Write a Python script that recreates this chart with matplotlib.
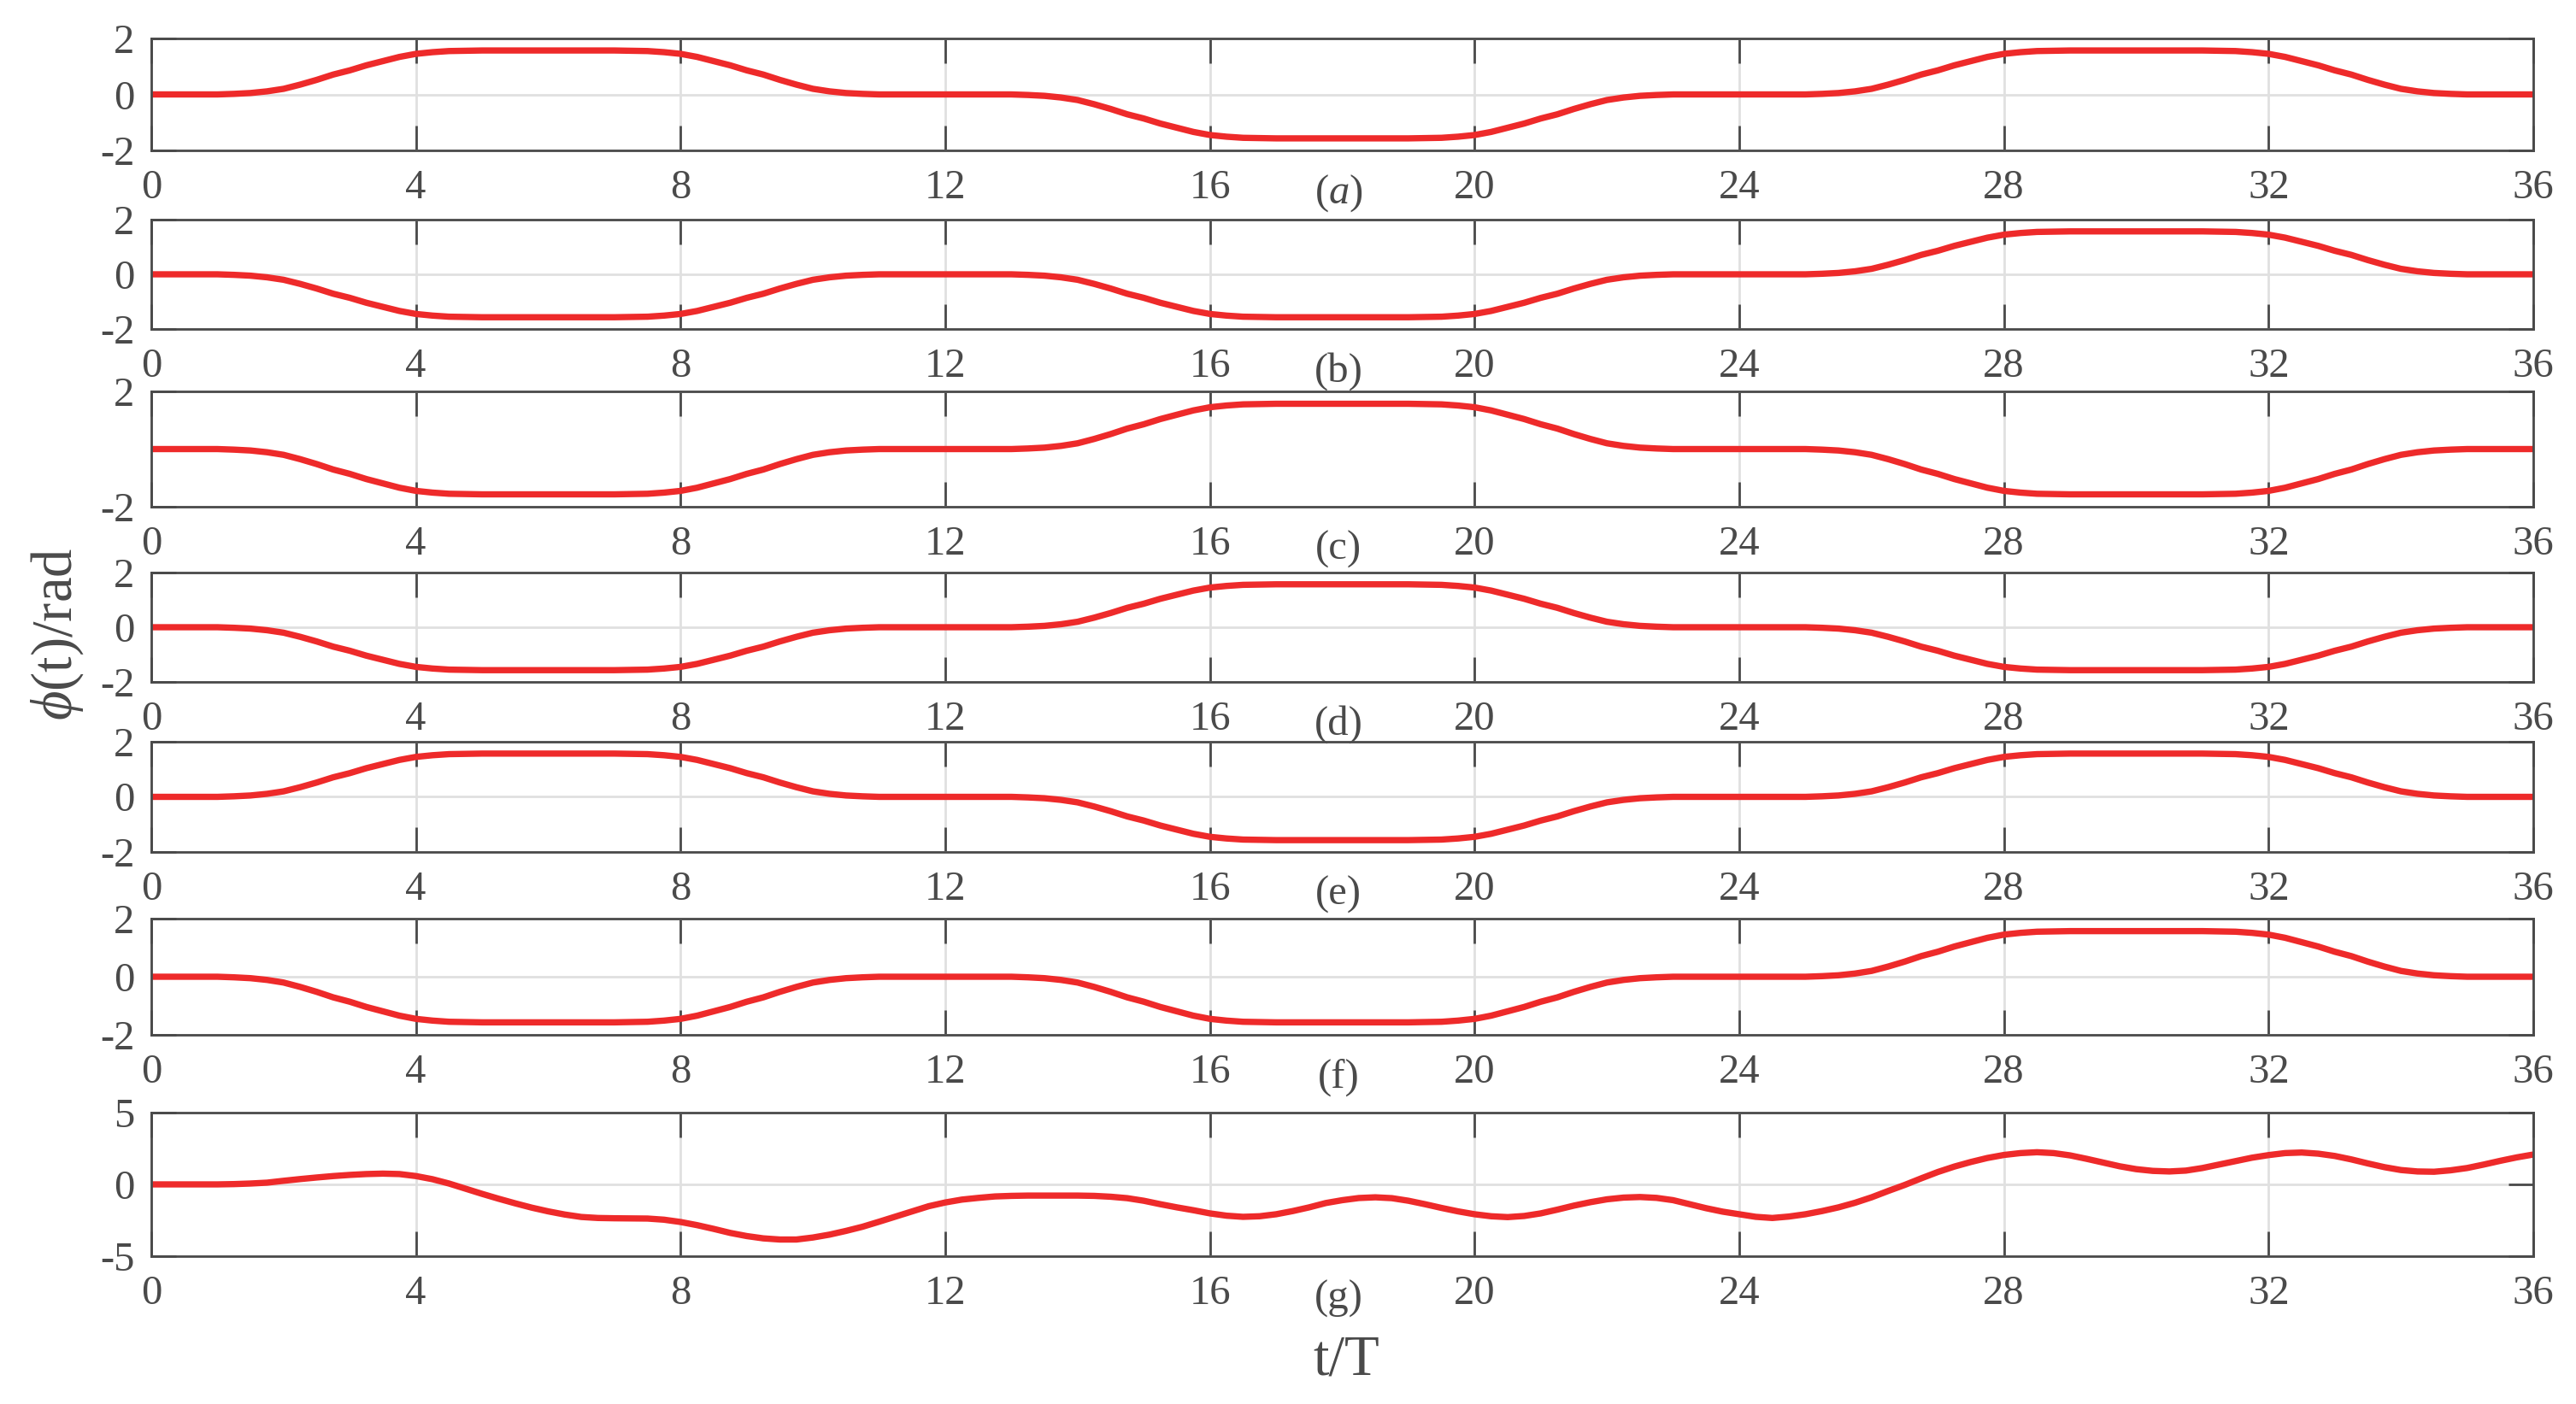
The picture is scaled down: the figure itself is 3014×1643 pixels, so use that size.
import numpy as np
import matplotlib
matplotlib.use("Agg")
import matplotlib.pyplot as plt

# ---------------- data ----------------
T_START, T_END, T_STEP = 0.0, 36.0, 0.25
X_TICKS = [0, 4, 8, 12, 16, 20, 24, 28, 32, 36]
PANEL_LABELS = ["($a$)", "(b)", "(c)", "(d)", "(e)", "(f)", "(g)"]

PHI_A = [0, 0, 0, 0, 0, 0.02, 0.05, 0.11, 0.20, 0.35, 0.52, 0.71, 0.86, 1.04, 1.19, 1.34, 1.45, 1.51, 1.55, 1.56,
         1.57, 1.57, 1.57, 1.57, 1.57, 1.57, 1.57, 1.57, 1.57,
         1.56, 1.55, 1.51, 1.45, 1.34, 1.19, 1.04, 0.86, 0.71, 0.52, 0.35, 0.20, 0.11, 0.05, 0.02, 0, 0, 0, 0, 0,
         0, 0, 0, 0, -0.02, -0.05, -0.11, -0.20, -0.35, -0.52, -0.71, -0.86, -1.04, -1.19, -1.34, -1.45, -1.51, -1.55, -1.56,
         -1.57, -1.57, -1.57, -1.57, -1.57, -1.57, -1.57, -1.57, -1.57,
         -1.56, -1.55, -1.51, -1.45, -1.34, -1.19, -1.04, -0.86, -0.71, -0.52, -0.35, -0.20, -0.11, -0.05, -0.02, 0, 0, 0, 0, 0,
         0, 0, 0, 0, 0.02, 0.05, 0.11, 0.20, 0.35, 0.52, 0.71, 0.86, 1.04, 1.19, 1.34, 1.45, 1.51, 1.55, 1.56,
         1.57, 1.57, 1.57, 1.57, 1.57, 1.57, 1.57, 1.57, 1.57,
         1.56, 1.55, 1.51, 1.45, 1.34, 1.19, 1.04, 0.86, 0.71, 0.52, 0.35, 0.20, 0.11, 0.05, 0.02, 0, 0, 0, 0, 0]

PHI_B = [0, 0, 0, 0, 0, -0.02, -0.05, -0.11, -0.20, -0.35, -0.52, -0.71, -0.86, -1.04, -1.19, -1.34, -1.45, -1.51, -1.55, -1.56,
         -1.57, -1.57, -1.57, -1.57, -1.57, -1.57, -1.57, -1.57, -1.57,
         -1.56, -1.55, -1.51, -1.45, -1.34, -1.19, -1.04, -0.86, -0.71, -0.52, -0.35, -0.20, -0.11, -0.05, -0.02, 0, 0, 0, 0, 0,
         0, 0, 0, 0, -0.02, -0.05, -0.11, -0.20, -0.35, -0.52, -0.71, -0.86, -1.04, -1.19, -1.34, -1.45, -1.51, -1.55, -1.56,
         -1.57, -1.57, -1.57, -1.57, -1.57, -1.57, -1.57, -1.57, -1.57,
         -1.56, -1.55, -1.51, -1.45, -1.34, -1.19, -1.04, -0.86, -0.71, -0.52, -0.35, -0.20, -0.11, -0.05, -0.02, 0, 0, 0, 0, 0,
         0, 0, 0, 0, 0.02, 0.05, 0.11, 0.20, 0.35, 0.52, 0.71, 0.86, 1.04, 1.19, 1.34, 1.45, 1.51, 1.55, 1.56,
         1.57, 1.57, 1.57, 1.57, 1.57, 1.57, 1.57, 1.57, 1.57,
         1.56, 1.55, 1.51, 1.45, 1.34, 1.19, 1.04, 0.86, 0.71, 0.52, 0.35, 0.20, 0.11, 0.05, 0.02, 0, 0, 0, 0, 0]

PHI_C = [0, 0, 0, 0, 0, -0.02, -0.05, -0.11, -0.20, -0.35, -0.52, -0.71, -0.86, -1.04, -1.19, -1.34, -1.45, -1.51, -1.55, -1.56,
         -1.57, -1.57, -1.57, -1.57, -1.57, -1.57, -1.57, -1.57, -1.57,
         -1.56, -1.55, -1.51, -1.45, -1.34, -1.19, -1.04, -0.86, -0.71, -0.52, -0.35, -0.20, -0.11, -0.05, -0.02, 0, 0, 0, 0, 0,
         0, 0, 0, 0, 0.02, 0.05, 0.11, 0.20, 0.35, 0.52, 0.71, 0.86, 1.04, 1.19, 1.34, 1.45, 1.51, 1.55, 1.56,
         1.57, 1.57, 1.57, 1.57, 1.57, 1.57, 1.57, 1.57, 1.57,
         1.56, 1.55, 1.51, 1.45, 1.34, 1.19, 1.04, 0.86, 0.71, 0.52, 0.35, 0.20, 0.11, 0.05, 0.02, 0, 0, 0, 0, 0,
         0, 0, 0, 0, -0.02, -0.05, -0.11, -0.20, -0.35, -0.52, -0.71, -0.86, -1.04, -1.19, -1.34, -1.45, -1.51, -1.55, -1.56,
         -1.57, -1.57, -1.57, -1.57, -1.57, -1.57, -1.57, -1.57, -1.57,
         -1.56, -1.55, -1.51, -1.45, -1.34, -1.19, -1.04, -0.86, -0.71, -0.52, -0.35, -0.20, -0.11, -0.05, -0.02, 0, 0, 0, 0, 0]

PHI_D = list(PHI_C)   # panel (d) traces the same path as (c)
PHI_E = list(PHI_A)   # panel (e) traces the same path as (a)
PHI_F = list(PHI_B)   # panel (f) traces the same path as (b)

PHI_G = [0, 0, 0, 0, 0, 0.02, 0.06, 0.12, 0.25, 0.37, 0.48, 0.58, 0.66, 0.72, 0.75, 0.72, 0.58, 0.36, 0.06, -0.30,
         -0.66, -1.00, -1.32, -1.62, -1.88,
         -2.10, -2.27, -2.34, -2.36, -2.37, -2.38, -2.46, -2.62, -2.84, -3.10, -3.38, -3.60, -3.76, -3.84, -3.84,
         -3.70, -3.50, -3.24, -2.95, -2.60, -2.24, -1.88, -1.52, -1.26,
         -1.06, -0.94, -0.84, -0.80, -0.78, -0.78, -0.78, -0.78, -0.80, -0.86, -0.96, -1.14, -1.38, -1.60, -1.80,
         -2.02, -2.18, -2.26, -2.22, -2.08, -1.86, -1.60, -1.30, -1.10, -0.95, -0.90, -0.96, -1.14, -1.38, -1.64,
         -1.88, -2.08, -2.22, -2.28, -2.20, -2.02, -1.76, -1.48, -1.24, -1.04, -0.92, -0.88, -0.94, -1.10, -1.38,
         -1.66, -1.90, -2.08, -2.26, -2.34, -2.24, -2.08, -1.86, -1.60, -1.28, -0.90, -0.46, -0.04, 0.42, 0.86,
         1.24, 1.56, 1.84, 2.05, 2.18, 2.24, 2.18, 2.02, 1.78, 1.52, 1.26, 1.06, 0.94, 0.90, 0.96,
         1.14, 1.38, 1.62, 1.86, 2.04, 2.18, 2.22, 2.14, 1.98, 1.74, 1.46, 1.20, 1.00, 0.90, 0.88,
         0.98, 1.14, 1.38, 1.64, 1.88, 2.08]

SERIES = [PHI_A, PHI_B, PHI_C, PHI_D, PHI_E, PHI_F, PHI_G]
Y_TICKS = [[-2, 0, 2], [-2, 0, 2], [-2, 2], [-2, 0, 2], [-2, 0, 2], [-2, 0, 2], [-5, 0, 5]]
Y_LIMS = [(-2, 2)] * 6 + [(-5, 5)]

# ---------------- layout / style ----------------
W, H, DPI = 3014, 1643, 100
LEFT_PX, RIGHT_PX = 177, 2964
PANEL_PX = [(45, 176), (257, 385), (458, 593), (670, 798), (868, 997), (1075, 1211), (1302, 1470)]
AX_COLOR = "#4a4a4a"
GRID_COLOR = "#e0e0e0"
LINE_COLOR = "#ee2a2a"

plt.rcParams["font.family"] = ["Liberation Serif", "DejaVu Serif"]
plt.rcParams["mathtext.fontset"] = "custom"
plt.rcParams["mathtext.rm"] = "Liberation Serif"
plt.rcParams["mathtext.it"] = "Liberation Serif:italic"
plt.rcParams["axes.unicode_minus"] = False

t = np.arange(T_START, T_END + T_STEP / 2, T_STEP)
for s in SERIES:
    if len(s) != len(t):
        raise ValueError("series length %d != %d" % (len(s), len(t)))

fig = plt.figure(figsize=(W / DPI, H / DPI), dpi=DPI)
fig.patch.set_facecolor("white")

for k, (top, bot) in enumerate(PANEL_PX):
    ax = fig.add_axes([LEFT_PX / W, 1 - bot / H, (RIGHT_PX - LEFT_PX) / W, (bot - top) / H])
    ax.plot(t, SERIES[k], color=LINE_COLOR, lw=5.3, solid_capstyle="butt",
            solid_joinstyle="round", zorder=3)
    ax.set_xlim(0, 36)
    ax.set_ylim(*Y_LIMS[k])
    ax.set_xticks(X_TICKS)
    ax.set_xticklabels([str(v) for v in X_TICKS])
    ax.set_yticks(Y_TICKS[k])
    ax.set_yticklabels([str(v) for v in Y_TICKS[k]])
    ax.grid(True, color=GRID_COLOR, linewidth=2.0)
    ax.tick_params(axis="both", direction="in", length=21, width=2.0, color=AX_COLOR,
                   labelcolor=AX_COLOR, labelsize=35, top=True, right=True)
    ax.tick_params(axis="x", pad=16)
    ax.tick_params(axis="y", pad=14)
    for sp in ax.spines.values():
        sp.set_color(AX_COLOR)
        sp.set_linewidth(2.0)
        sp.set_zorder(4)
    fig.text(1566 / W, 1 - (bot + 50) / H, PANEL_LABELS[k], ha="center", va="center",
             fontsize=35, color=AX_COLOR)

fig.text(67 / W, 1 - 742 / H, r"$\phi$(t)/rad", rotation=90, ha="center", va="center",
         fontsize=48, color=AX_COLOR)
fig.text(1575 / W, 1 - 1592 / H, "t/T", ha="center", va="center", fontsize=48, color=AX_COLOR)

fig.savefig("out.png", dpi=DPI, facecolor="white")
